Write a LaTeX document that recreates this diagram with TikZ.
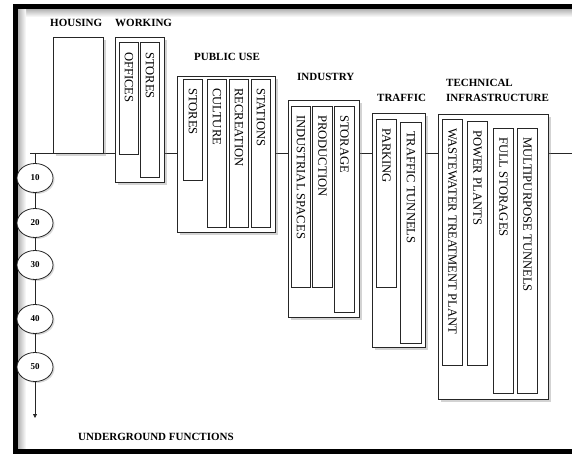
\documentclass[tikz,border=0pt]{standalone}
\usepackage{fontspec}
\setmainfont{Liberation Serif}
\usetikzlibrary{shapes.geometric,shadows,arrows.meta}

\tikzset{
  group/.style={rectangle, draw=black!85, line width=0.8pt, fill=white, inner sep=0pt, anchor=north west,
    drop shadow={opacity=0.35, shadow xshift=2.5pt, shadow yshift=-2.5pt}},
  slot/.style={rectangle, draw=black!85, line width=0.8pt, fill=white, inner sep=0pt, anchor=north west,
    minimum width=19pt, drop shadow={opacity=0.25, shadow xshift=1pt, shadow yshift=-1pt}},
  title/.style={font=\fontsize{11}{15}\selectfont\bfseries, inner sep=0pt, anchor=west},
  slotlabel/.style={font=\fontsize{12.6}{14}\selectfont, rotate=-90, anchor=west, inner sep=0pt},
  depth/.style={ellipse, draw=black!85, line width=0.8pt, fill=white, minimum width=36pt, minimum height=29pt,
    inner sep=0pt, font=\fontsize{9}{10}\selectfont\bfseries,
    drop shadow={opacity=0.3, shadow xshift=1.5pt, shadow yshift=-1.5pt}}
}

\begin{document}
\begin{tikzpicture}[x=1pt,y=-1pt]
\useasboundingbox (0,0) rectangle (572,454);

% frame with inner shadow
\shade[top color=black!30, bottom color=white] (18,9) rectangle (572,17);
\shade[left color=black!30, right color=white] (18,9) rectangle (26,449);
\draw[line width=5pt] (580,6.5) -- (15.5,6.5) -- (15.5,451.5) -- (580,451.5);

% ground level
\coordinate (groundL) at (30,153);
\coordinate (groundR) at (575,153);
\draw[line width=0.8pt, black!85] (groundL) -- (groundR);

% housing and working
\node[title] (housingT) at (50,23) {HOUSING};
\node[title] (workingT) at (115,23) {WORKING};
\node[group, minimum width=50pt, minimum height=116pt] (housing) at (53,37) {};
\node[group, minimum width=49pt, minimum height=145pt] (working) at (115,37) {};
\node[slot, minimum height=112pt] (offices) at (119,42) {};
\node[slotlabel] (officesL) at ([yshift=-10pt]offices.north) {OFFICES};
\node[slot, minimum height=135pt] (storesA) at (140,42) {};
\node[slotlabel] (storesAL) at ([yshift=-10pt]storesA.north) {STORES};

% public use
\node[title] (publicT) at (194,57) {PUBLIC USE};
\node[group, minimum width=98pt, minimum height=156pt] (public) at (177,76) {};
\node[slot, minimum height=101pt] (storesB) at (183,79) {};
\node[slotlabel] (storesBL) at ([yshift=-9pt]storesB.north) {STORES};
\node[slot, minimum height=148pt] (culture) at (207,79) {};
\node[slotlabel] (cultureL) at ([yshift=-9pt]culture.north) {CULTURE};
\node[slot, minimum height=148pt] (recreation) at (229,79) {};
\node[slotlabel] (recreationL) at ([yshift=-9pt]recreation.north) {RECREATION};
\node[slot, minimum height=148pt] (stations) at (251,79) {};
\node[slotlabel] (stationsL) at ([yshift=-9pt]stations.north) {STATIONS};

% industry
\node[title] (industryT) at (297,77) {INDUSTRY};
\node[group, minimum width=71pt, minimum height=217pt] (industry) at (288,100) {};
\node[slot, minimum height=181pt] (indspaces) at (291,106) {};
\node[slotlabel] (indspacesL) at ([yshift=-9pt]indspaces.north) {INDUSTRIAL SPACES};
\node[slot, minimum width=20pt, minimum height=181pt] (production) at (312,106) {};
\node[slotlabel] (productionL) at ([yshift=-9pt]production.north) {PRODUCTION};
\node[slot, minimum width=20pt, minimum height=206pt] (storage) at (334,106) {};
\node[slotlabel] (storageL) at ([yshift=-9pt]storage.north) {STORAGE};

% traffic
\node[title] (trafficT) at (377,98) {TRAFFIC};
\node[group, minimum width=53pt, minimum height=234pt] (traffic) at (372,113) {};
\node[slot, minimum width=20pt, minimum height=168pt] (parking) at (376,119) {};
\node[slotlabel] (parkingL) at ([yshift=-9pt]parking.north) {PARKING};
\node[slot, minimum width=21pt, minimum height=221pt] (ttunnels) at (400,122) {};
\node[slotlabel] (ttunnelsL) at ([yshift=-9pt]ttunnels.north) {TRAFFIC TUNNELS};

% technical infrastructure
\node[title, align=left, anchor=north west] (technicalT) at (446,79) {TECHNICAL\\INFRASTRUCTURE};
\node[group, minimum width=110pt, minimum height=285pt] (technical) at (438,114) {};
\node[slot, minimum width=20pt, minimum height=246pt] (wastewater) at (442,119) {};
\node[slotlabel] (wastewaterL) at ([yshift=-9pt]wastewater.north) {WASTEWATER TREATMENT PLANT};
\node[slot, minimum width=20pt, minimum height=244pt] (power) at (467,121) {};
\node[slotlabel] (powerL) at ([yshift=-9pt]power.north) {POWER PLANTS};
\node[slot, minimum width=20pt, minimum height=265pt] (fullstor) at (493,128) {};
\node[slotlabel] (fullstorL) at ([yshift=-9pt]fullstor.north) {FULL STORAGES};
\node[slot, minimum width=20pt, minimum height=265pt] (multi) at (517,128) {};
\node[slotlabel] (multiL) at ([yshift=-9pt]multi.north) {MULTIPURPOSE TUNNELS};

% depth axis
\coordinate (axisTop) at (35,153);
\coordinate (axisEnd) at (35,418);
\node[depth] (d10) at (35,178) {10};
\node[depth] (d20) at (35,223) {20};
\node[depth] (d30) at (35,265) {30};
\node[depth] (d40) at (35,319) {40};
\node[depth] (d50) at (35,367) {50};
\draw[line width=0.8pt, black!85] (axisTop) -- (d10);
\draw[line width=0.8pt, black!85] (d10) -- (d20);
\draw[line width=0.8pt, black!85] (d20) -- (d30);
\draw[line width=0.8pt, black!85] (d30) -- (d40);
\draw[line width=0.8pt, black!85] (d40) -- (d50);
\draw[line width=0.8pt, black!85, -{Triangle[length=4pt,width=4pt]}] (d50) -- (axisEnd);

\node[title] (undergroundT) at (78,437) {UNDERGROUND FUNCTIONS};
\end{tikzpicture}
\end{document}
